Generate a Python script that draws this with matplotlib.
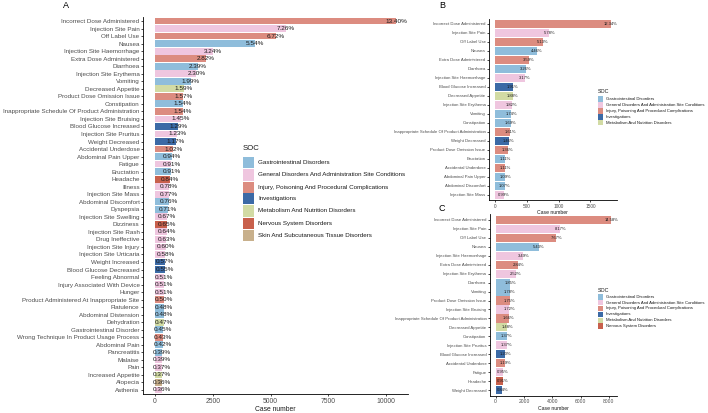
import matplotlib
matplotlib.use("Agg")
import matplotlib.pyplot as plt
from matplotlib.patches import Rectangle

plt.rcParams['font.family'] = ['Liberation Sans', 'DejaVu Sans']

# SOC colours
soc_colors = {
    "Gastrointestinal Disorders": "#8fbddb",
    "General Disorders And Administration Site Conditions": "#efc6df",
    "Injury, Poisoning And Procedural Complications": "#dc8c80",
    "Investigations": "#3c6aa6",
    "Metabolism And Nutrition Disorders": "#d2dba4",
    "Nervous System Disorders": "#c8604c",
    "Skin And Subcutaneous Tissue Disorders": "#c8b08c",
}
GI = "Gastrointestinal Disorders"
GEN = "General Disorders And Administration Site Conditions"
INJ = "Injury, Poisoning And Procedural Complications"
INV = "Investigations"
MET = "Metabolism And Nutrition Disorders"
NER = "Nervous System Disorders"
SKN = "Skin And Subcutaneous Tissue Disorders"

# ---- panel A ----
a_total = 77840
a_terms = ["Incorrect Dose Administered", "Injection Site Pain", "Off Label Use", "Nausea",
           "Injection Site Haemorrhage", "Extra Dose Administered", "Diarrhoea",
           "Injection Site Erythema", "Vomiting", "Decreased Appetite",
           "Product Dose Omission Issue", "Constipation",
           "Inappropriate Schedule Of Product Administration", "Injection Site Bruising",
           "Blood Glucose Increased", "Injection Site Pruritus", "Weight Decreased",
           "Accidental Underdose", "Abdominal Pain Upper", "Fatigue", "Eructation",
           "Headache", "Illness", "Injection Site Mass", "Abdominal Discomfort",
           "Dyspepsia", "Injection Site Swelling", "Dizziness", "Injection Site Rash",
           "Drug Ineffective", "Injection Site Injury", "Injection Site Urticaria",
           "Weight Increased", "Blood Glucose Decreased", "Feeling Abnormal",
           "Injury Associated With Device", "Hunger",
           "Product Administered At Inappropriate Site", "Flatulence",
           "Abdominal Distension", "Dehydration", "Gastrointestinal Disorder",
           "Wrong Technique In Product Usage Process", "Abdominal Pain", "Pancreatitis",
           "Malaise", "Pain", "Increased Appetite", "Alopecia", "Asthenia"]
a_pct = [13.40, 7.26, 6.72, 5.54, 3.24, 2.82, 2.39, 2.30, 1.99, 1.59, 1.57, 1.54, 1.54,
         1.45, 1.29, 1.23, 1.17, 1.02, 0.94, 0.91, 0.91, 0.84, 0.78, 0.77, 0.76, 0.71,
         0.67, 0.65, 0.64, 0.63, 0.60, 0.58, 0.57, 0.55, 0.51, 0.51, 0.51, 0.50, 0.48,
         0.48, 0.47, 0.45, 0.43, 0.42, 0.39, 0.39, 0.37, 0.37, 0.36, 0.36]
a_soc = [INJ, GEN, INJ, GI, GEN, INJ, GI, GEN, GI, MET, INJ, GI, INJ, GEN, INV, GEN, INV,
         INJ, GI, GEN, GI, NER, GEN, GEN, GI, GI, GEN, NER, GEN, GEN, GEN, GEN, INV, INV,
         GEN, GEN, GEN, INJ, GI, GI, MET, GI, INJ, GI, GI, GEN, GEN, MET, SKN, GEN]

# ---- panel B ----
b_total = 14770
b_terms = ["Incorrect Dose Administered", "Injection Site Pain", "Off Label Use", "Nausea",
           "Extra Dose Administered", "Diarrhoea", "Injection Site Haemorrhage",
           "Blood Glucose Increased", "Decreased Appetite", "Injection Site Erythema",
           "Vomiting", "Constipation", "Inappropriate Schedule Of Product Administration",
           "Weight Decreased", "Product Dose Omission Issue", "Eructation",
           "Accidental Underdose", "Abdominal Pain Upper", "Abdominal Discomfort",
           "Injection Site Mass"]
b_pct = [12.34, 5.78, 5.13, 4.46, 3.59, 3.26, 3.17, 1.91, 1.88, 1.82, 1.74, 1.69, 1.61,
         1.46, 1.36, 1.11, 1.11, 1.09, 1.07, 0.99]
b_soc = [INJ, GEN, INJ, GI, INJ, GI, GEN, INV, MET, GEN, GI, GI, INJ, INV, INJ, GI, INJ,
         GI, GI, GEN]

# ---- panel C ----
c_total = 56000
c_terms = ["Incorrect Dose Administered", "Injection Site Pain", "Off Label Use", "Nausea",
           "Injection Site Haemorrhage", "Extra Dose Administered", "Injection Site Erythema",
           "Diarrhoea", "Vomiting", "Product Dose Omission Issue", "Injection Site Bruising",
           "Inappropriate Schedule Of Product Administration", "Decreased Appetite",
           "Constipation", "Injection Site Pruritus", "Blood Glucose Increased",
           "Accidental Underdose", "Fatigue", "Headache", "Weight Decreased"]
c_pct = [14.58, 8.17, 7.67, 5.43, 3.49, 2.84, 2.52, 1.85, 1.78, 1.75, 1.72, 1.66, 1.48,
         1.37, 1.37, 1.20, 1.19, 0.95, 0.91, 0.84]
c_soc = [INJ, GEN, INJ, GI, GEN, INJ, GEN, GI, GI, INJ, GEN, INJ, MET, GI, GEN, INV, INJ,
         GEN, NER, INV]

W, H = 708, 413


def bar_panel(ax, terms, pct, soc, total, ticks, ylab_fs, pct_fs, xt_fs, xl_fs):
    counts = [p * total / 100 for p in pct]
    y = list(range(len(terms)))
    ax.barh(y, counts, height=0.9, color=[soc_colors[s] for s in soc])
    for yi, c, p in zip(y, counts, pct):
        ax.text(c, yi, "{:.2f}%".format(p), ha="center", va="center",
                fontsize=pct_fs, color="#1a1a1a")
    mx = max(counts)
    ax.set_xlim(-0.05 * mx, 1.05 * mx)
    ax.set_ylim(len(terms) - 0.4, -0.6)
    ax.set_yticks(y)
    ax.set_yticklabels(terms, fontsize=ylab_fs, color="#4d4d4d")
    ax.set_xticks(ticks)
    ax.set_xticklabels([str(t) for t in ticks], fontsize=xt_fs, color="#4d4d4d")
    ax.set_xlabel("Case number", fontsize=xl_fs, color="#1a1a1a", labelpad=1)
    for s in ["top", "right"]:
        ax.spines[s].set_visible(False)
    for s in ["left", "bottom"]:
        ax.spines[s].set_linewidth(0.6)
    ax.tick_params(length=1.5, width=0.5, pad=1)


def soc_legend(fig, socs, x, title_y, row0, step, key, gap, fs, tfs):
    # hand-built legend in pixel units, like the ggplot guide
    fig.text(x / W, 1 - title_y / H, "SOC", fontsize=tfs, ha="left", va="center",
             color="#1a1a1a")
    for i, s in enumerate(socs):
        yc = row0 + i * step
        fig.add_artist(Rectangle((x / W, 1 - (yc + key / 2) / H), key / W, key / H,
                                 facecolor=soc_colors[s], edgecolor="none",
                                 transform=fig.transFigure))
        fig.text((x + key + gap) / W, 1 - yc / H, s, fontsize=fs, ha="left",
                 va="center", color="#1a1a1a")


fig = plt.figure(figsize=(7.08, 4.13), dpi=100)

axA = fig.add_axes([0.2020, 0.0448, 0.3743, 0.9152])
bar_panel(axA, a_terms, a_pct, a_soc, a_total, [0, 2500, 5000, 7500, 10000],
          4.5, 4.6, 4.9, 4.9)

axB = fig.add_axes([0.6907, 0.5155, 0.1805, 0.4395])
bar_panel(axB, b_terms, b_pct, b_soc, b_total, [0, 500, 1000, 1500],
          3.1, 3.0, 3.4, 3.7)

axC = fig.add_axes([0.6919, 0.0419, 0.1796, 0.4392])
bar_panel(axC, c_terms, c_pct, c_soc, c_total, [0, 2000, 4000, 6000, 8000],
          3.1, 3.0, 3.6, 3.7)

soc_legend(fig, [GI, GEN, INJ, INV, MET, NER, SKN], 243, 149, 163, 12, 11, 4.3, 4.5, 5.6)
soc_legend(fig, [GI, GEN, INJ, INV, MET], 597.7, 91.7, 99, 5.9, 5.6, 2.4, 3.1, 3.9)
soc_legend(fig, [GI, GEN, INJ, INV, MET, NER], 597.7, 291, 296.7, 5.9, 5.6, 2.4, 3.1, 3.9)

fig.text(66 / W, 1 - 6 / H, "A", fontsize=6.5, ha="center", va="center")
fig.text(442 / W, 1 - 6 / H, "B", fontsize=6.5, ha="center", va="center")
fig.text(442 / W, 1 - 208 / H, "C", fontsize=6.5, ha="center", va="center")

fig.savefig("out.png", dpi=100)
